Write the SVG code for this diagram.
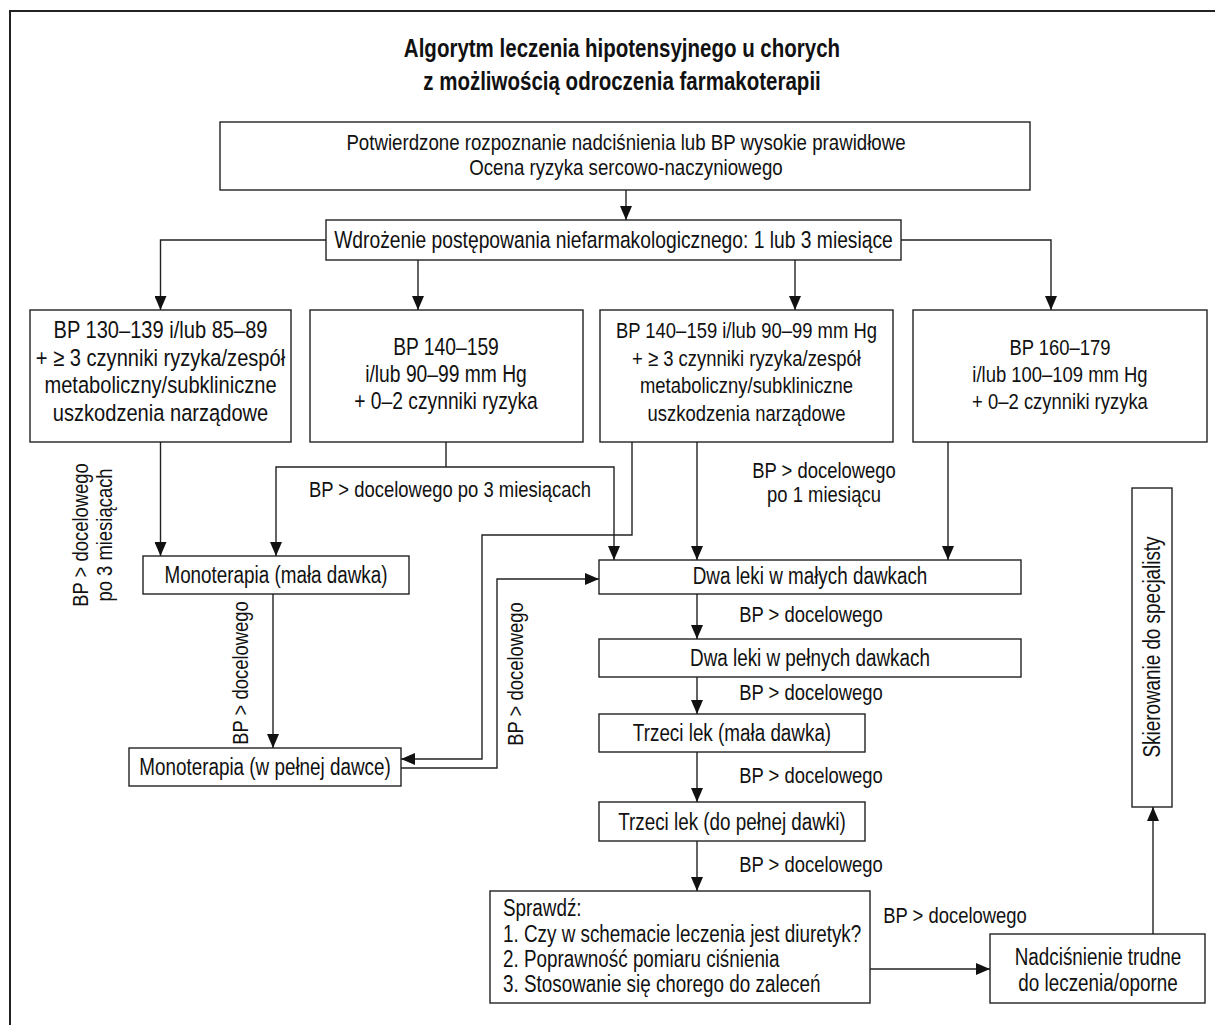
<svg xmlns="http://www.w3.org/2000/svg" width="1215" height="1025" viewBox="0 0 1215 1025">
  <style>
    .box { fill: #fff; stroke: #222; stroke-width: 1.4; }
    .frame { fill: none; stroke: #222; stroke-width: 2; }
    .t { font-family: "Liberation Sans", Arial, sans-serif; fill: #111; text-anchor: middle; }
    .s { text-anchor: start; }
    .title { font-weight: bold; font-size: 25px; }
    .f225 { font-size: 22.5px; }
    .f23 { font-size: 23px; }
    .f235 { font-size: 23.5px; }
    .f245 { font-size: 24.5px; }
    .wire { fill: none; stroke: #222; stroke-width: 1.4; }
    .arr { marker-end: url(#ah); }
  </style>
  <defs>
    <marker id="ah" viewBox="0 0 14 12" refX="14" refY="6" markerWidth="14" markerHeight="12" orient="auto" markerUnits="userSpaceOnUse">
      <path d="M0,0 L14,6 L0,12 z" fill="#111"/>
    </marker>
  </defs>

  <rect width="1215" height="1025" fill="#fff"/>
  <!-- outer frame: top and left edges only -->
  <path class="frame" d="M10,1025 V11 H1215"/>

  <g id="title" class="t title">
    <text transform="translate(622 57) scale(.82 1)">Algorytm leczenia hipotensyjnego u chorych</text>
    <text transform="translate(622 90) scale(.82 1)">z możliwością odroczenia farmakoterapii</text>
  </g>

  <g id="confirmed-diagnosis">
    <rect class="box" x="220" y="122" width="810" height="68"/>
    <g class="t" style="font-size:22.8px">
      <text transform="translate(626 150) scale(.82 1)">Potwierdzone rozpoznanie nadciśnienia lub BP wysokie prawidłowe</text>
      <text transform="translate(626 175) scale(.82 1)">Ocena ryzyka sercowo-naczyniowego</text>
    </g>
  </g>

  <g id="lifestyle">
    <rect class="box" x="326" y="220" width="575" height="40"/>
    <text class="t f235" transform="translate(613.5 248) scale(.82 1)">Wdrożenie postępowania niefarmakologicznego: 1 lub 3 miesiące</text>
  </g>

  <g id="group-130-139">
    <rect class="box" x="30" y="310" width="261" height="132"/>
    <g class="t f245">
      <text transform="translate(160.5 338) scale(.82 1)">BP 130–139 i/lub 85–89</text>
      <text transform="translate(160.5 365.5) scale(.82 1)">+ ≥ 3 czynniki ryzyka/zespół</text>
      <text transform="translate(160.5 393) scale(.82 1)">metaboliczny/subkliniczne</text>
      <text transform="translate(160.5 420.5) scale(.82 1)">uszkodzenia narządowe</text>
    </g>
  </g>

  <g id="group-140-159-low">
    <rect class="box" x="310" y="310" width="273" height="132"/>
    <g class="t f235">
      <text transform="translate(446 355) scale(.82 1)">BP 140–159</text>
      <text transform="translate(446 382) scale(.82 1)">i/lub 90–99 mm Hg</text>
      <text transform="translate(446 409) scale(.82 1)">+ 0–2 czynniki ryzyka</text>
    </g>
  </g>

  <g id="group-140-159-high">
    <rect class="box" x="600" y="310" width="293" height="132"/>
    <g class="t f225">
      <text transform="translate(746.5 338) scale(.82 1)">BP 140–159 i/lub 90–99 mm Hg</text>
      <text transform="translate(746.5 365.5) scale(.82 1)">+ ≥ 3 czynniki ryzyka/zespół</text>
      <text transform="translate(746.5 393) scale(.82 1)">metaboliczny/subkliniczne</text>
      <text transform="translate(746.5 420.5) scale(.82 1)">uszkodzenia narządowe</text>
    </g>
  </g>

  <g id="group-160-179">
    <rect class="box" x="913" y="310" width="294" height="132"/>
    <g class="t f225">
      <text transform="translate(1060 355) scale(.82 1)">BP 160–179</text>
      <text transform="translate(1060 382) scale(.82 1)">i/lub 100–109 mm Hg</text>
      <text transform="translate(1060 409) scale(.82 1)">+ 0–2 czynniki ryzyka</text>
    </g>
  </g>

  <g id="mono-low">
    <rect class="box" x="143" y="556" width="266" height="38"/>
    <text class="t f23" transform="translate(276 583) scale(.82 1)">Monoterapia (mała dawka)</text>
  </g>

  <g id="mono-full">
    <rect class="box" x="129" y="748" width="272" height="38"/>
    <text class="t f23" transform="translate(265 775) scale(.82 1)">Monoterapia (w pełnej dawce)</text>
  </g>

  <g id="two-low">
    <rect class="box" x="599" y="560" width="422" height="34"/>
    <text class="t f23" transform="translate(810 584) scale(.82 1)">Dwa leki w małych dawkach</text>
  </g>

  <g id="two-full">
    <rect class="box" x="599" y="639" width="422" height="38"/>
    <text class="t f23" transform="translate(810 666) scale(.82 1)">Dwa leki w pełnych dawkach</text>
  </g>

  <g id="third-low">
    <rect class="box" x="599" y="714" width="266" height="38"/>
    <text class="t f23" transform="translate(732 741) scale(.82 1)">Trzeci lek (mała dawka)</text>
  </g>

  <g id="third-full">
    <rect class="box" x="599" y="802" width="266" height="39"/>
    <text class="t f23" transform="translate(732 830) scale(.82 1)">Trzeci lek (do pełnej dawki)</text>
  </g>

  <g id="check">
    <rect class="box" x="490" y="891" width="380" height="112"/>
    <g class="t s f23">
      <text transform="translate(503 916) scale(.82 1)">Sprawdź:</text>
      <text transform="translate(503 942) scale(.82 1)">1. Czy w schemacie leczenia jest diuretyk?</text>
      <text transform="translate(503 967) scale(.82 1)">2. Poprawność pomiaru ciśnienia</text>
      <text transform="translate(503 992) scale(.82 1)">3. Stosowanie się chorego do zaleceń</text>
    </g>
  </g>

  <g id="resistant">
    <rect class="box" x="990" y="934" width="215" height="69"/>
    <g class="t f23">
      <text transform="translate(1098 965) scale(.82 1)">Nadciśnienie trudne</text>
      <text transform="translate(1098 991) scale(.82 1)">do leczenia/oporne</text>
    </g>
  </g>

  <g id="referral">
    <rect class="box" x="1132" y="488" width="40" height="319"/>
    <text class="t f23" transform="translate(1160 647) rotate(-90) scale(.82 1)">Skierowanie do specjalisty</text>
  </g>

  <g id="connectors">
    <path class="wire arr" d="M626,190 V220"/>
    <path class="wire arr" d="M326,240 H160.5 V310"/>
    <path class="wire arr" d="M418,260 V310"/>
    <path class="wire arr" d="M795,260 V310"/>
    <path class="wire arr" d="M901,240 H1051 V310"/>
    <path class="wire arr" d="M160.5,442 V556"/>
    <path class="wire" d="M446,442 V467"/>
    <path class="wire arr" d="M446,467 H276 V556"/>
    <path class="wire arr" d="M446,467 H614 V560"/>
    <path class="wire arr" d="M632,442 V535 H482 V759 H401"/>
    <path class="wire arr" d="M697,442 V560"/>
    <path class="wire arr" d="M948,442 V560"/>
    <path class="wire arr" d="M273,594 V748"/>
    <path class="wire arr" d="M401,768 H497 V579 H599"/>
    <path class="wire arr" d="M697,594 V639"/>
    <path class="wire arr" d="M697,677 V714"/>
    <path class="wire arr" d="M697,752 V802"/>
    <path class="wire arr" d="M697,841 V891"/>
    <path class="wire arr" d="M870,969 H990"/>
    <path class="wire arr" d="M1153,934 V807"/>
  </g>

  <g id="edge-labels" class="t f225">
    <text transform="translate(88 535) rotate(-90) scale(.82 1)">BP &gt; docelowego</text>
    <text transform="translate(112 535) rotate(-90) scale(.82 1)">po 3 miesiącach</text>
    <text transform="translate(450 497) scale(.82 1)">BP &gt; docelowego po 3 miesiącach</text>
    <text transform="translate(824 478) scale(.82 1)">BP &gt; docelowego</text>
    <text transform="translate(824 502) scale(.82 1)">po 1 miesiącu</text>
    <text transform="translate(248 673) rotate(-90) scale(.82 1)">BP &gt; docelowego</text>
    <text transform="translate(523 674) rotate(-90) scale(.82 1)">BP &gt; docelowego</text>
    <text transform="translate(811 622) scale(.82 1)">BP &gt; docelowego</text>
    <text transform="translate(811 700) scale(.82 1)">BP &gt; docelowego</text>
    <text transform="translate(811 783) scale(.82 1)">BP &gt; docelowego</text>
    <text transform="translate(811 872) scale(.82 1)">BP &gt; docelowego</text>
    <text transform="translate(955 923) scale(.82 1)">BP &gt; docelowego</text>
  </g>
</svg>
